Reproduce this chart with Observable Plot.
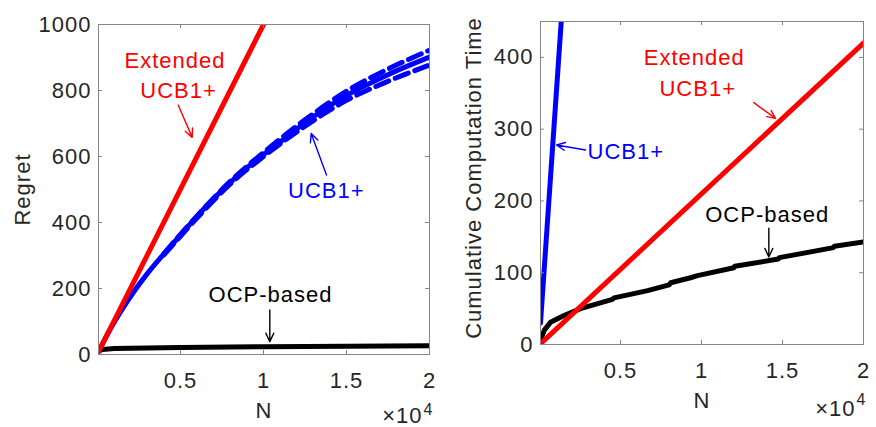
<!DOCTYPE html>
<html><head><meta charset="utf-8">
<script src="https://cdn.jsdelivr.net/npm/d3@7"></script>
<script src="https://cdn.jsdelivr.net/npm/@observablehq/plot@0.6"></script>
<style>
body{margin:0;background:#fff;}
#wrap{display:flex;width:876px;height:427px;overflow:hidden;}
</style></head><body><div id="wrap"></div>
<script>
// ---------- data ----------
const xTicks = [5000, 10000, 15000, 20000];
const regretYTicks = [0, 200, 400, 600, 800, 1000];
const timeYTicks = [0, 100, 200, 300, 400];

// Left panel: Regret
const regretExtN = [60, 10000];
const regretExt = [8, 1000];
const regretUcbN = [60, 500, 1000, 1500, 2187, 3000, 4295, 5000, 6608, 8012, 9416, 11024, 12500, 15000, 17500, 20000];
const regretUcb = [8, 52, 97, 138, 190, 245, 322, 362, 452, 522, 583, 645, 702, 785, 848, 901];
const regretUcbBandN = [4000, 6000, 8000, 10000, 12500, 15000, 17500, 20000];
const regretUcbUpper = [306, 420, 525, 612, 711, 798, 865, 922];
const regretUcbLower = [302, 414, 517, 600, 692, 770, 828, 877];
const regretOcpN = [60, 300, 1000, 3000, 5000, 10000, 15000, 20000];
const regretOcp = [10, 15, 18, 20, 21, 23.5, 25, 26.5];

// Right panel: Cumulative computation time
const timeExtN = [60, 20000];
const timeExt = [1, 420];
const timeUcbN = [60, 1340];
const timeUcb = [30, 450];
const timeOcpN = [60, 300, 680, 1480, 2530, 4500, 4600, 6670, 8000, 8100, 9320, 9750, 12000, 12050, 14750, 14800, 18150, 18200, 20000];
const timeOcp = [6, 20, 31, 40, 50, 63, 65, 75, 83, 86, 93, 96, 107, 109, 119, 121, 135, 137, 143];

// Annotations (data coordinates)
const leftExtText = ["Extended", "UCB1+"], leftExtTextN = [4669, 4880], leftExtTextY = [890, 800];
const leftExtArrow = {x1: 4861, y1: 756, x2: 5705, y2: 658};
const leftUcbText = ["UCB1+"], leftUcbTextN = [13783], leftUcbTextY = [497];
const leftUcbArrow = {x1: 13795, y1: 544, x2: 12873, y2: 670};
const leftOcpText = ["OCP-based"], leftOcpTextN = [10422], leftOcpTextY = [180];
const leftOcpArrow = {x1: 10380, y1: 135, x2: 10380, y2: 39};

const rightExtText = ["Extended", "UCB1+"], rightExtTextN = [9549, 9765], rightExtTextY = [399, 356];
const rightExtArrow = {x1: 13230, y1: 337, x2: 14568, y2: 315};
const rightUcbText = ["UCB1+"], rightUcbTextN = [5329], rightUcbTextY = [268];
const rightUcbArrow = {x1: 2840, y1: 271, x2: 1049, y2: 278};
const rightOcpText = ["OCP-based"], rightOcpTextN = [14055], rightOcpTextY = [181];
const rightOcpArrow = {x1: 14156, y1: 162, x2: 14156, y2: 122};

// ---------- helpers ----------
const ink = "#262626";
const boxColor = "#858585";
const RED = "#ff0000", BLUE = "#0000ff", BLACK = "#000000";
const font = "'Liberation Sans', Arial, Helvetica, sans-serif";
const zip = (xs, ys) => xs.map((x, i) => ({x, y: ys[i]}));
const labels = (ts, xs, ys) => ts.map((t, i) => ({t, x: xs[i], y: ys[i]}));

function frameMarks(yTicks, innerW, innerH) {
  const L = 4;
  return [
    Plot.frame({stroke: boxColor, strokeWidth: 1}),
    Plot.ruleX(xTicks, {x: d => d, insetTop: innerH - L, stroke: boxColor}),
    Plot.ruleX(xTicks, {x: d => d, insetBottom: innerH - L, stroke: boxColor}),
    Plot.ruleY(yTicks, {y: d => d, insetRight: innerW - L, stroke: boxColor}),
    Plot.ruleY(yTicks, {y: d => d, insetLeft: innerW - L, stroke: boxColor}),
    Plot.axisX(xTicks, {tickSize: 0, tickPadding: 18, tickFormat: d => String(d / 1e4), label: null, color: ink}),
    Plot.axisY(yTicks, {tickSize: 0, tickPadding: 7, tickFormat: d => String(d), label: null, color: ink})
  ];
}
function textMark(ts, xs, ys, color) {
  return Plot.text(labels(ts, xs, ys), {x: "x", y: "y", text: "t", fill: color, lineAnchor: "middle"});
}
function arrowMark(a, color) {
  return Plot.arrow([a], {x1: "x1", y1: "y1", x2: "x2", y2: "y2", stroke: color, strokeWidth: 1.4, headLength: 10, headAngle: 50});
}
function axisTitles(yTitle, yDx, yDy, xDy, mDx, mDy, eDx, eDy) {
  return [
    Plot.text([yTitle], {text: d => d, frameAnchor: "left", dx: yDx, dy: yDy, rotate: -90, textAnchor: "middle", lineAnchor: "middle", fill: ink}),
    Plot.text(["N"], {text: d => d, frameAnchor: "bottom", dy: xDy, lineAnchor: "middle", fill: ink}),
    Plot.text(["×10"], {text: d => d, frameAnchor: "bottom-right", dx: mDx, dy: mDy, textAnchor: "end", lineAnchor: "middle", fill: ink}),
    Plot.text(["4"], {text: d => d, frameAnchor: "bottom-right", dx: eDx, dy: eDy, textAnchor: "start", lineAnchor: "middle", fontSize: 16, fill: ink})
  ];
}
const styleBase = {fontFamily: font, fontSize: "22px", letterSpacing: "1px", background: "#fff", overflow: "visible"};
const dash = {stroke: BLUE, strokeWidth: 5, strokeDasharray: "14,7", clip: true, curve: "monotone-x"};

// ---------- left panel ----------
{
  const width = 440, height = 427, ml = 98, mr = 11, mt = 24, mb = 73;
  const iw = width - ml - mr, ih = height - mt - mb;
  const chart = Plot.plot({
    width, height, marginLeft: ml, marginRight: mr, marginTop: mt, marginBottom: mb,
    style: styleBase,
    x: {domain: [60, 20000]},
    y: {domain: [0, 1000]},
    marks: [
      Plot.line(zip(regretOcpN, regretOcp), {x: "x", y: "y", stroke: BLACK, strokeWidth: 5, clip: true}),
      Plot.line(zip(regretUcbBandN, regretUcbUpper), {x: "x", y: "y", ...dash}),
      Plot.line(zip(regretUcbBandN, regretUcbLower), {x: "x", y: "y", ...dash}),
      Plot.line(zip(regretUcbN, regretUcb), {x: "x", y: "y", stroke: BLUE, strokeWidth: 5, clip: true, curve: "monotone-x"}),
      Plot.line(zip(regretExtN, regretExt), {x: "x", y: "y", stroke: RED, strokeWidth: 5, clip: true}),
      ...frameMarks(regretYTicks, iw, ih),
      textMark(leftExtText, leftExtTextN, leftExtTextY, RED),
      arrowMark(leftExtArrow, RED),
      textMark(leftUcbText, leftUcbTextN, leftUcbTextY, BLUE),
      arrowMark(leftUcbArrow, BLUE),
      textMark(leftOcpText, leftOcpTextN, leftOcpTextY, BLACK),
      arrowMark(leftOcpArrow, BLACK),
      ...axisTitles("Regret", -76, 0, 56, -7, 61, -6, 55)
    ]
  });
  document.getElementById("wrap").append(chart);
}

// ---------- right panel ----------
{
  const width = 436, height = 427, ml = 100, mr = 13, mt = 21, mb = 83;
  const iw = width - ml - mr, ih = height - mt - mb;
  const chart = Plot.plot({
    width, height, marginLeft: ml, marginRight: mr, marginTop: mt, marginBottom: mb,
    style: styleBase,
    x: {domain: [60, 20000]},
    y: {domain: [0, 450]},
    marks: [
      Plot.line(zip(timeOcpN, timeOcp), {x: "x", y: "y", stroke: BLACK, strokeWidth: 5, clip: true}),
      Plot.line(zip(timeUcbN, timeUcb), {x: "x", y: "y", stroke: BLUE, strokeWidth: 5, clip: true}),
      Plot.line(zip(timeExtN, timeExt), {x: "x", y: "y", stroke: RED, strokeWidth: 5, clip: true}),
      ...frameMarks(timeYTicks, iw, ih),
      textMark(rightExtText, rightExtTextN, rightExtTextY, RED),
      arrowMark(rightExtArrow, RED),
      textMark(rightUcbText, rightUcbTextN, rightUcbTextY, BLUE),
      arrowMark(rightUcbArrow, BLUE),
      textMark(rightOcpText, rightOcpTextN, rightOcpTextY, BLACK),
      arrowMark(rightOcpArrow, BLACK),
      ...axisTitles("Cumulative Computation Time", -67, -5, 56, -8, 64, -7, 55)
    ]
  });
  document.getElementById("wrap").append(chart);
}
</script></body></html>
